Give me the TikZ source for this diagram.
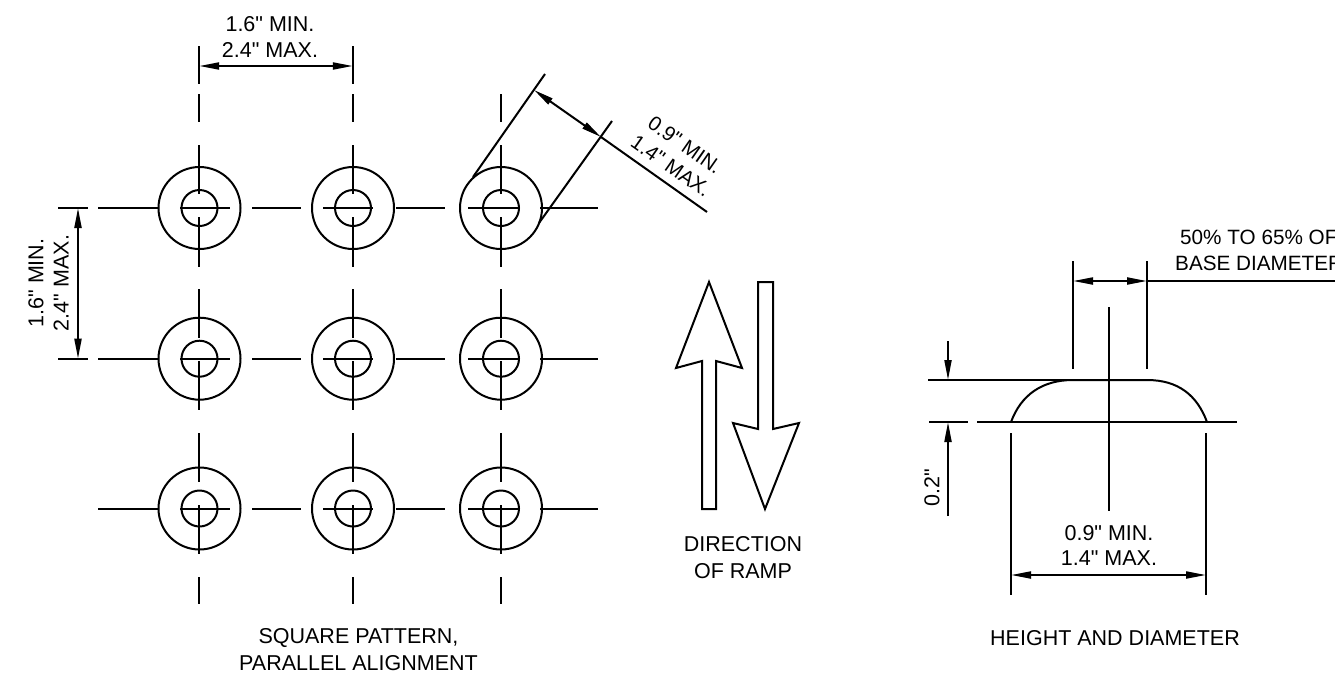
\documentclass[tikz,border=0pt]{standalone}
\usepackage{fontspec}
\newfontfamily\dimfont{Liberation Sans}
\usetikzlibrary{calc,arrows.meta}

\begin{document}
\begin{tikzpicture}[x=1pt,y=-1pt,line cap=butt,
  dimline/.style={line width=\lw,{Triangle[length=20pt,width=7pt]}-{Triangle[length=20pt,width=7pt]}},
  dimend/.style={line width=\lw,-{Triangle[length=20pt,width=7pt]}},
  txt/.style={font=\dimfont\fontsize{\fs}{\fs}\selectfont,inner sep=0pt},
  rottxt/.style={font=\dimfont\fontsize{20.5pt}{20.5pt}\selectfont,inner sep=0pt,rotate=-35},
  pcttxt/.style={font=\dimfont\fontsize{20.7pt}{20.7pt}\selectfont,inner sep=0pt,anchor=west}]
%
\def\lw{2pt};
\def\cw{2pt};
\def\fs{21.5pt};
\def\rout{41};
\def\rin{18};
%
\clip[](0,0) rectangle (1335,673);
\path[fill=white](0,0) rectangle (1335,673);
%
\coordinate (A1) at (199.5,208);
\coordinate (A2) at (353,208);
\coordinate (A3) at (501,208);
\coordinate (B1) at (199.5,358.7);
\coordinate (B2) at (353,358.7);
\coordinate (B3) at (501,358.7);
\coordinate (C1) at (199.5,508.5);
\coordinate (C2) at (353,508.5);
\coordinate (C3) at (501,508.5);
%
% studs
\foreach \p in {A1,A2,A3,B1,B2,B3,C1,C2,C3}{
  \draw[line width=\cw](\p) circle (\rout);
  \draw[line width=\cw](\p) circle (\rin);
}
%
% center lines, horizontal
\foreach \r in {208,358.7,508.5}{
  \draw[line width=\lw](98,\r)--(158,\r);
  \draw[line width=\lw](180,\r)--(230,\r);
  \draw[line width=\lw](252,\r)--(301,\r);
  \draw[line width=\lw](323,\r)--(373,\r);
  \draw[line width=\lw](396,\r)--(445,\r);
  \draw[line width=\lw](468,\r)--(519,\r);
  \draw[line width=\lw](540,\r)--(598,\r);
}
%
% center lines, vertical
\foreach \c in {199.2,352.8,500.7}{
  \draw[line width=\lw](\c,94)--(\c,122);
  \draw[line width=\lw](\c,145)--(\c,194);
  \draw[line width=\lw](\c,217)--(\c,267);
  \draw[line width=\lw](\c,289)--(\c,338);
  \draw[line width=\lw](\c,361)--(\c,410);
  \draw[line width=\lw](\c,433)--(\c,482);
  \draw[line width=\lw](\c,505)--(\c,554);
  \draw[line width=\lw](\c,577)--(\c,604);
}
\foreach \c in {199.2,352.8}{
  \draw[line width=\lw](\c,46)--(\c,84);
}
%
% spacing
\draw[dimline](199.2,66)--(352.8,66);
\node[txt] (toptxt) at (270,24) {1.6" MIN.};
\node[txt] (toptxtb) at (270,50) {2.4" MAX.};
%
\draw[line width=\lw](58,208)--(88,208);
\draw[line width=\lw](58,358.7)--(88,358.7);
\draw[dimline](78,208)--(78,358.7);
\node[txt,rotate=90] (lefttxt) at (36,283) {1.6" MIN.};
\node[txt,rotate=90] (lefttxtb) at (61,283) {2.4" MAX.};
%
% rotated spacing
\coordinate (P1) at (545,74);
\coordinate (P2) at (473,177);
\coordinate (Q1) at (612,121);
\coordinate (Q2) at (539,223);
\coordinate (R1) at (534,90);
\coordinate (R2) at (601,137);
\coordinate (R3) at (707,212);
\draw[line width=\lw](P1)--(P2);
\draw[line width=\lw](Q1)--(Q2);
\draw[dimline](R1)--(R2);
\draw[line width=\lw](R2)--(R3);
\node[rottxt] (rotlabel) at (685,145) {0.9" MIN.};
\node[rottxt] (rotlabelb) at (671,166) {1.4" MAX.};
%
% ramp arrows
\draw[line width=\cw,line join=miter](709,282)--(742,368)--(716,361)--(716,509)--(702,509)--(702,361)--(676,368)--cycle;
\draw[line width=\cw,line join=miter](758,282)--(773,282)--(773,429)--(799,423)--(765,509)--(733,423)--(758,429)--cycle;
\node[txt] (dirtxt) at (743,544) {DIRECTION};
\node[txt] (dirtxtb) at (743,571) {OF RAMP};
%
% profile
\coordinate (D1) at (1011,422);
\coordinate (D2) at (1073,380);
\coordinate (D3) at (1147,380);
\coordinate (D4) at (1207,422);
\draw[line width=\cw](D1) .. controls (1021,395) and (1042,380) .. (D2)--(D3) .. controls (1178,380) and (1197,395) .. (D4);
\draw[line width=\lw](928,380)--(D2);
\draw[line width=\lw](929,422)--(968,422);
\draw[line width=\lw](977,422)--(1237,422);
\draw[line width=\lw](1109,307)--(1109,511);
\draw[line width=\lw](1073,261)--(1073,369);
\draw[line width=\lw](1147,261)--(1147,369);
\draw[dimline](1073,281)--(1147,281);
\draw[line width=\lw](1147,281)--(1335,281);
\node[pcttxt] (pctlabel) at (1180,237) {50\% TO 65\% OF};
\node[pcttxt] (pctlabelb) at (1175,263) {BASE DIAMETER};
%
\draw[dimend](948,341)--(948,380);
\draw[dimend](948,516)--(948,422);
\node[txt,rotate=90] (hgttxt) at (932,488) {0.2"};
%
\draw[line width=\lw](1011,433)--(1011,595);
\draw[line width=\lw](1206,433)--(1206,595);
\draw[dimline](1011,575)--(1206,575);
\node[txt] (dmtxt) at (1109,533) {0.9" MIN.};
\node[txt] (dmtxtb) at (1109,558) {1.4" MAX.};
%
\node[txt] (pattxt) at (358.5,638) {SQUARE PATTERN,};
\node[txt] (pattxtb) at (358.5,663) {PARALLEL ALIGNMENT};
\node[txt] (proftxt) at (1115,638.5) {HEIGHT AND DIAMETER};
%
\end{tikzpicture}
\end{document}
